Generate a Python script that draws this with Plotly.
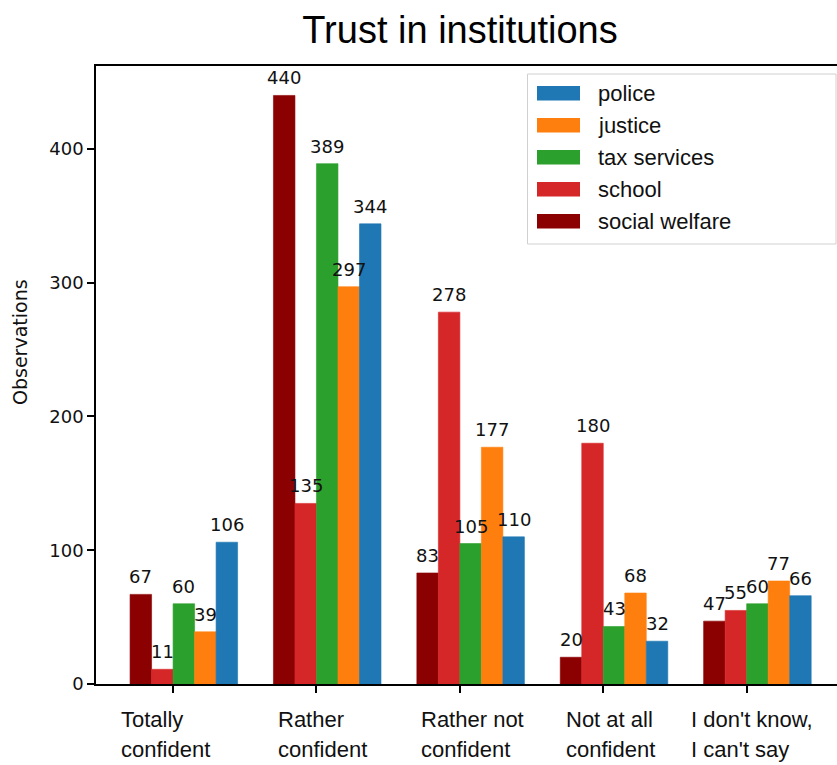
import plotly.graph_objects as go

# ---- data ----
categories = ["Totally confident", "Rather confident", "Rather not confident",
              "Not at all confident", "I don't know, I can't say"]
category_lines = [["Totally", "confident"], ["Rather", "confident"],
                  ["Rather not", "confident"], ["Not at all", "confident"],
                  ["I don't know,", "I can't say"]]
series_names = ["social welfare", "school", "tax services", "justice", "police"]
social_welfare = [67, 440, 83, 20, 47]
school = [11, 135, 278, 180, 55]
tax_services = [60, 389, 105, 43, 60]
justice = [39, 297, 177, 68, 77]
police = [106, 344, 110, 32, 66]
y_ticks = [0, 100, 200, 300, 400]

series_values = [social_welfare, school, tax_services, justice, police]
colors = ["#8b0000", "#d62728", "#2ca02c", "#ff7f0e", "#1f77b4"]

# ---- layout constants (pixels) ----
W, H = 837, 765
L, R, T, B = 96, 0, 66, 81
PW, PH = W - L - R, H - T - B
BAR_W = 0.15
label_xshift = [-54, -40, -41, -39, -58]


def px(x):
    return (x - L) / PW


def py(y):
    return (H - B - y) / PH


fig = go.Figure()
positions = list(range(len(categories)))
annotations = []
for k, (name, vals, col) in enumerate(zip(series_names, series_values, colors)):
    xs = [p + (k - 1.5) * BAR_W for p in positions]
    fig.add_trace(go.Bar(x=xs, y=vals, width=BAR_W, name=name,
                         marker=dict(color=col, line=dict(width=0.6, color=col)),
                         showlegend=False))
    for xv, v in zip(xs, vals):
        annotations.append(dict(x=xv, y=v, xref="x", yref="y", text=str(v),
                                showarrow=False, xanchor="center", yanchor="bottom",
                                yshift=5,
                                font=dict(family="DejaVu Sans", size=18, color="#111")))

# category labels (two lines, left aligned)
for p, lines, sh in zip(positions, category_lines, label_xshift):
    for j, line in enumerate(lines):
        annotations.append(dict(x=p, xref="x", y=py(719.5 + j * 30), yref="paper",
                                text=line, showarrow=False, xanchor="left",
                                yanchor="middle", xshift=sh,
                                font=dict(family="Liberation Sans", size=22, color="#111")))

# y axis title
annotations.append(dict(x=px(20), y=py(342), xref="paper", yref="paper",
                        text="Observations", textangle=-90, showarrow=False,
                        xanchor="center", yanchor="middle",
                        font=dict(family="DejaVu Sans", size=19, color="#111")))

# manual legend (reversed order, matplotlib style patches)
shapes = []
bx0, bx1, by0, by1 = 527.5, 836, 74, 244
shapes.append(dict(type="rect", xref="paper", yref="paper",
                   x0=px(bx0), x1=px(bx1), y0=py(by1), y1=py(by0),
                   line=dict(color="#d0d0d0", width=1), fillcolor="rgba(255,255,255,0.85)",
                   layer="above"))
row_y = [93.3, 125.3, 157.3, 189.3, 221.3]
for i, k in enumerate(reversed(range(len(series_names)))):
    cy = row_y[i]
    shapes.append(dict(type="rect", xref="paper", yref="paper",
                       x0=px(537), x1=px(580), y0=py(cy + 7.3), y1=py(cy - 7.3),
                       line=dict(width=0), fillcolor=colors[k], layer="above"))
    annotations.append(dict(x=px(596), y=py(cy), xref="paper", yref="paper",
                            text=series_names[k], showarrow=False, xanchor="left",
                            yanchor="middle",
                            font=dict(family="Liberation Sans", size=22, color="#111")))

fig.update_layout(
    width=W, height=H,
    margin=dict(l=L, r=R, t=T, b=B),
    paper_bgcolor="white", plot_bgcolor="white",
    barmode="overlay",
    title=dict(text="Trust in institutions", x=460 / W, xref="container", xanchor="center",
               y=1 - 29.5 / H, yref="container", yanchor="middle",
               font=dict(family="Liberation Sans", size=38, color="#000")),
    xaxis=dict(range=[-0.5375, 4.63], tickvals=positions, showticklabels=False,
               ticks="outside", ticklen=7, tickwidth=1.5, tickcolor="#000",
               showline=True, linecolor="#000", linewidth=1.6, mirror=True,
               showgrid=False, zeroline=False),
    yaxis=dict(range=[0, 462], tickvals=y_ticks, ticks="outside", ticklen=7,
               tickwidth=1.5, tickcolor="#000", showline=True, linecolor="#000",
               linewidth=1.6, showgrid=False, zeroline=False,
               tickfont=dict(family="DejaVu Sans", size=18, color="#111")),
    annotations=annotations,
    shapes=shapes,
    showlegend=False,
)

fig.write_html("out.html", config={"displayModeBar": False},
               post_script="document.body.style.margin='0';document.body.style.overflow='hidden';")
